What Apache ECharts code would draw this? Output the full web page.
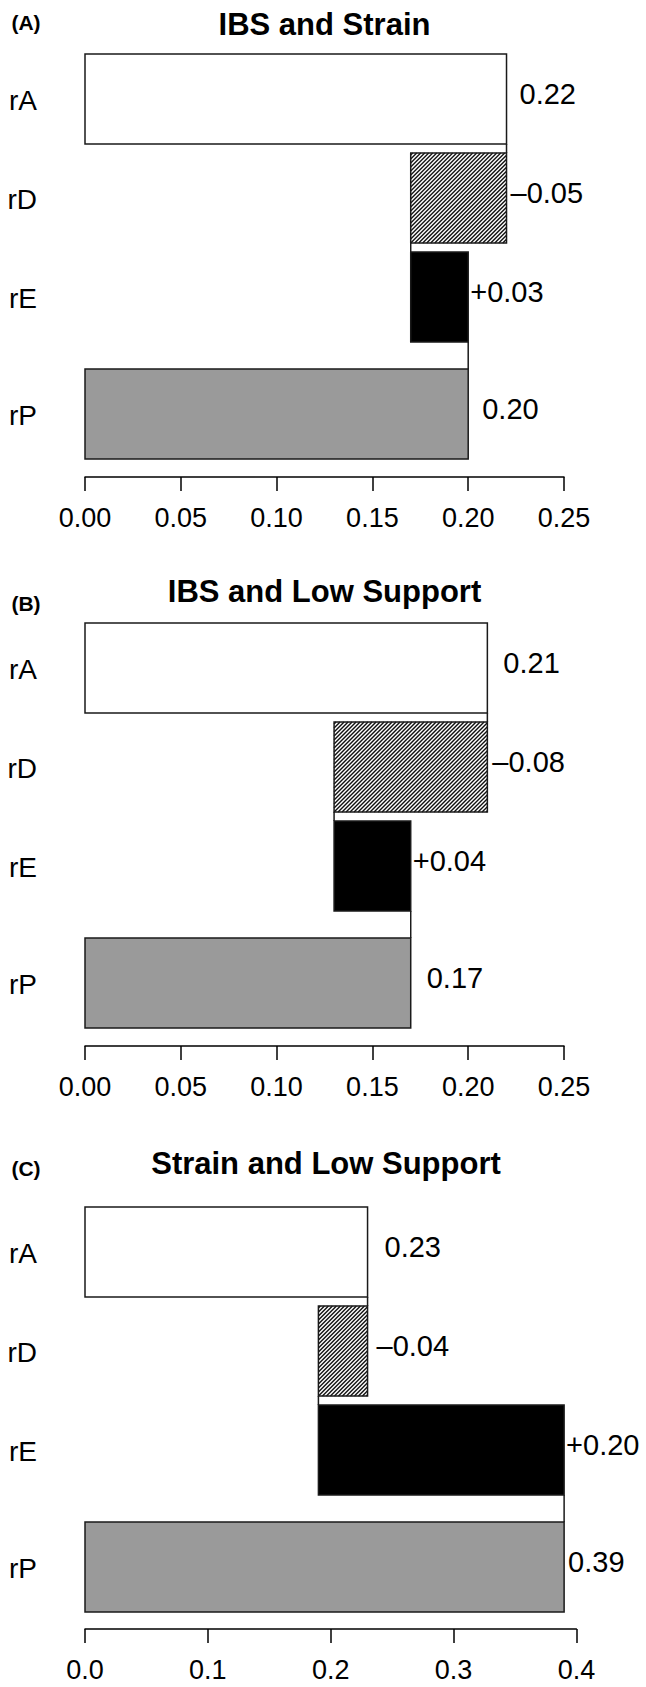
<!DOCTYPE html>
<html><head><meta charset="utf-8">
<script src="https://cdn.jsdelivr.net/npm/echarts@6/dist/echarts.min.js"></script>
<style>html,body{margin:0;padding:0;background:#fff}#c{width:646px;height:1687px}</style>
</head><body><div id="c"></div>
<script>
// ---------------- data ----------------
const categories = ['rA', 'rD', 'rE', 'rP'];
const panelTitles = ['IBS and Strain', 'IBS and Low Support', 'Strain and Low Support'];
const panelTags = ['(A)', '(B)', '(C)'];
const valuesA = [0.22, -0.05, 0.03, 0.20];
const valuesB = [0.21, -0.08, 0.04, 0.17];
const valuesC = [0.23, -0.04, 0.20, 0.39];
const ticksAB = ['0.00', '0.05', '0.10', '0.15', '0.20', '0.25'];
const ticksC = ['0.0', '0.1', '0.2', '0.3', '0.4'];

// ---------------- layout / style ----------------
const FONT = '"Liberation Sans", Arial, Helvetica, sans-serif';
const panels = [
  { values: valuesA, ticks: ticksAB, max: 0.25, interval: 0.05, top: 54, right: 82, titleX: 324.5, titleY: 23, tagY: 22, offset: 18, gaps: [13, 4, 2, 14] },
  { values: valuesB, ticks: ticksAB, max: 0.25, interval: 0.05, top: 623, right: 82, titleX: 324.5, titleY: 590, tagY: 603, offset: 18, gaps: [16, 5, 2, 16] },
  { values: valuesC, ticks: ticksC, max: 0.4, interval: 0.1, top: 1207, right: 69.6, titleX: 326, titleY: 1162, tagY: 1168, offset: 17, gaps: [17, 9, 2, 4] }
];
const GRID_LEFT = 85, GRID_H = 405;
// bar slots in bar-height units (R barplot style spacing)
const slots = [[0, 1], [1.1, 2.1], [2.2, 3.2], [3.5, 4.5]];
const fills = ['#ffffff', '#ffffff', '#000000', '#9a9a9a'];

function rowsFor(vals) {
  const a = vals[0], d = vals[1], e = vals[2], p = vals[3];
  return [
    [0, 0, a, a],
    [1, a, a + d, d],
    [2, a + d, a + d + e, e],
    [3, 0, p, p]
  ];
}
function fmt(i, v) {
  if (i === 0 || i === 3) return v.toFixed(2);
  return (v > 0 ? '+' : '\u2013') + Math.abs(v).toFixed(2);
}

function makeRender(P) {
  return function (params, api) {
    const i = api.value(0), s = api.value(1), e = api.value(2), v = api.value(3);
    const lo = Math.min(s, e), hi = Math.max(s, e);
    const sl = slots[i];
    const tl = api.coord([lo, sl[0]]);
    const br = api.coord([hi, sl[1]]);
    const x0 = tl[0], y0 = tl[1], x1 = br[0], y1 = br[1];
    const ch = [];
    ch.push({ type: 'rect', shape: { x: x0, y: y0, width: x1 - x0, height: y1 - y0 }, style: { fill: fills[i], stroke: null } });
    if (i === 1) {
      const step = 4;
      for (let c = x0 + y0 + step / 2; c < x1 + y1; c += step) {
        const xa = Math.max(x0, c - y1), xb = Math.min(x1, c - y0);
        if (xb > xa) ch.push({ type: 'line', shape: { x1: xa, y1: c - xa, x2: xb, y2: c - xb }, style: { stroke: '#111', lineWidth: 1.4 } });
      }
    }
    ch.push({ type: 'rect', shape: { x: x0, y: y0, width: x1 - x0, height: y1 - y0 }, style: { fill: null, stroke: '#1a1a1a', lineWidth: 1.5 } });
    if (i < 3) {
      const a = api.coord([e, sl[1]]), b = api.coord([e, slots[i + 1][0]]);
      ch.push({ type: 'line', shape: { x1: a[0], y1: a[1], x2: b[0], y2: b[1] }, style: { stroke: '#1a1a1a', lineWidth: 1.5 } });
    }
    const cy = (y0 + y1) / 2;
    ch.push({ type: 'text', x: x1 + P.gaps[i], y: cy - 5, style: { text: fmt(i, v), fill: '#000', fontSize: 29, fontFamily: FONT, align: 'left', verticalAlign: 'middle' } });
    ch.push({ type: 'text', x: 37, y: cy + 1, style: { text: categories[i], fill: '#000', fontSize: 28, fontFamily: FONT, align: 'right', verticalAlign: 'middle' } });
    return { type: 'group', children: ch };
  };
}

const option = {
  backgroundColor: '#fff',
  animation: false,
  title: [],
  grid: [], xAxis: [], yAxis: [], series: []
};
panels.forEach((P, k) => {
  option.title.push({ text: panelTitles[k], left: P.titleX, top: P.titleY - 14, textAlign: 'center', padding: 0,
    textStyle: { fontSize: 31, fontWeight: 'bold', color: '#000', fontFamily: FONT } });
  option.title.push({ text: panelTags[k], left: 26, top: P.tagY - 10, textAlign: 'center', padding: 0,
    textStyle: { fontSize: 21, fontWeight: 'bold', color: '#000', fontFamily: FONT } });
  option.grid.push({ left: GRID_LEFT, right: P.right, top: P.top, height: GRID_H, containLabel: false });
  option.xAxis.push({
    type: 'value', gridIndex: k, position: 'bottom', min: 0, max: P.max, interval: P.interval, offset: P.offset,
    axisLine: { show: true, onZero: false, lineStyle: { color: '#000', width: 1.5 } },
    axisTick: { show: true, length: 14, lineStyle: { color: '#000', width: 1.5 } },
    splitLine: { show: false },
    axisLabel: { fontSize: 27, color: '#000', fontFamily: FONT, margin: 27,
      formatter: (val, idx) => P.ticks[idx] }
  });
  option.yAxis.push({ type: 'value', gridIndex: k, min: 0, max: 4.5, inverse: true, show: false });
  option.series.push({
    type: 'custom', xAxisIndex: k, yAxisIndex: k, coordinateSystem: 'cartesian2d', clip: false, silent: true,
    encode: { x: [1, 2], y: 0 },
    data: rowsFor(P.values), renderItem: makeRender(P)
  });
});
const chart = echarts.init(document.getElementById('c'), null, { renderer: 'svg' });
chart.setOption(option);
</script></body></html>
